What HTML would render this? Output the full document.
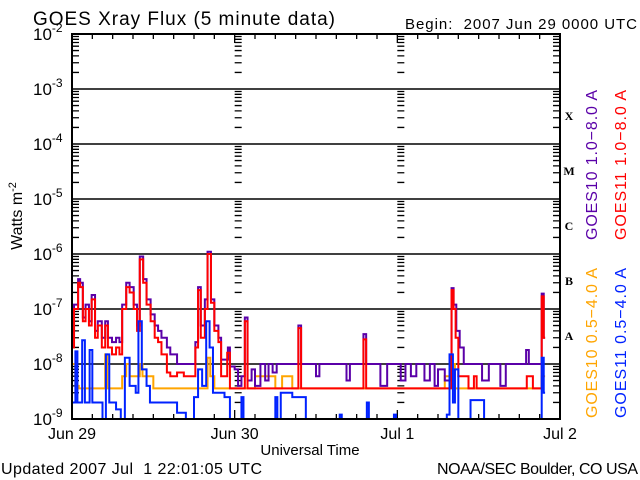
<!DOCTYPE html>
<html><head><meta charset="utf-8"><style>
body{margin:0;background:#fff;}
svg{display:block;font-family:"Liberation Sans",sans-serif;}
</style></head><body>
<svg id="chart" width="640" height="480" viewBox="0 0 640 480">
<rect x="0" y="0" width="640" height="480" fill="#fff"/>
<text x="33" y="25" font-size="19" textLength="302">GOES Xray Flux (5 minute data)</text>
<text x="405" y="29" font-size="15" textLength="232" xml:space="preserve">Begin:  2007 Jun 29 0000 UTC</text>
<text x="1" y="474" font-size="16" textLength="261" xml:space="preserve">Updated 2007 Jul  1 22:01:05 UTC</text>
<text x="437" y="474" font-size="16" textLength="201">NOAA/SEC Boulder, CO USA</text>
<text x="310" y="455" font-size="15" text-anchor="middle">Universal Time</text>
<text transform="translate(22,216) rotate(-90)" font-size="16" text-anchor="middle">Watts m<tspan dy="-6" font-size="11">-2</tspan></text>
<g id="legend" font-size="16">
<text transform="translate(597,240) rotate(-90)" fill="#5a00a8" textLength="150">GOES10 1.0−8.0 A</text>
<text transform="translate(626,240) rotate(-90)" fill="#ff0000" textLength="150">GOES11 1.0−8.0 A</text>
<text transform="translate(597,418) rotate(-90)" fill="#ffa500" textLength="150">GOES10 0.5−4.0 A</text>
<text transform="translate(626,418) rotate(-90)" fill="#0022ff" textLength="150">GOES11 0.5−4.0 A</text>
</g>
<g id="axes"></g>
<g id="series"></g>
<rect x="72" y="34" width="488" height="385" fill="none" stroke="#000" stroke-width="2"/>
</svg>
<script>
const dayLabels=["Jun 29","Jun 30","Jul 1","Jul 2"];
const decadeExps=[-2,-3,-4,-5,-6,-7,-8,-9];
const classLetters=["X","M","C","B","A"];
const tOrange=[0,0.5,1.0,4.9,5.2,7.4,8.0,8.5,10.0,10.4,12.0,20.0,20.4,21.0,27,30,31,32.5,55.0,56.0,56.5,69.3,69.8];
const vOrange=[1e-8,4e-9,3.6e-9,1.5e-8,3.6e-9,6e-9,1e-8,6e-9,1e-8,6e-9,3.6e-9,1.3e-8,6e-9,3.6e-9,6e-9,3.6e-9,6e-9,3.6e-9,6e-9,1e-8,3.6e-9,6e-9,6e-9];
const tPurple=[0,0.3,0.9,1.2,1.6,2.0,2.5,2.9,3.4,3.8,4.4,4.9,5.3,5.9,6.5,7.0,7.4,8.0,8.5,9.1,9.6,10.0,10.5,11.0,11.6,12.2,12.7,13.2,14.0,14.5,15.5,16.5,17.5,18.2,18.6,19.0,19.6,20.0,20.5,21.0,21.6,22.0,23.0,23.3,24.0,24.5,25.0,25.5,25.9,26.5,27.0,27.8,28.5,29.0,29.6,30.2,31,32,33.4,33.8,35,36,36.5,38,39.5,40.5,41,43.0,43.4,45,45.5,46.5,48,48.5,49.2,50,50.8,52,52.8,53.5,54,55,56.0,56.3,56.7,57.2,57.8,59,60.5,61.5,62.5,63.2,64,66,67.0,67.4,69.3,69.6,69.8];
const vPurple=[3e-8,1.2e-7,3.5e-7,3e-7,7e-8,1.2e-7,6e-8,1.8e-7,4e-8,6e-8,3e-8,6e-8,3e-8,2.5e-8,3e-8,2.5e-8,1.2e-7,3e-7,2.5e-7,1.2e-7,5e-8,9e-7,3.5e-7,1.5e-7,8e-8,5e-8,4e-8,3e-8,2e-8,1.5e-8,1e-8,1e-8,1e-8,2.5e-8,2.5e-7,5e-8,1.5e-7,1.1e-6,1.5e-7,5e-8,3e-8,1.2e-8,2e-8,9e-9,8e-9,4e-9,6e-9,7e-8,5e-9,8e-9,4e-9,1e-8,5e-9,1e-8,7e-9,1e-8,1e-8,1e-8,5e-8,1e-8,1e-8,6e-9,1e-8,1e-8,1e-8,5e-9,1e-8,3.5e-8,1e-8,1e-8,4e-9,1e-8,1e-8,5e-9,1e-8,6e-9,1e-8,5e-9,1e-8,4e-9,8e-9,5e-9,2.4e-7,1.2e-7,4e-8,2e-8,1e-8,1e-8,5e-9,1e-8,1e-8,4e-9,1e-8,1e-8,1.8e-8,1e-8,1.9e-7,3e-8,3e-8];
const tRed=[0,0.3,0.9,1.2,1.6,2.0,2.5,2.9,3.4,3.8,4.4,4.9,5.3,5.9,6.5,7.0,7.4,8.0,8.5,9.1,9.6,10.0,10.5,11.0,11.6,12.2,12.7,13.2,14.0,14.5,15.5,16.5,17.5,18.2,18.6,19.0,19.6,20.0,20.5,21.0,21.6,22.0,22.9,23.3,25.5,25.9,33.4,33.8,43.0,43.4,56.0,56.3,56.6,57.0,58.5,59.3,59.7,67.1,68.0,69.3,69.6,69.8];
const vRed=[2e-8,1e-7,3e-7,2.5e-7,6e-8,1e-7,5e-8,1.5e-7,3e-8,5e-8,2e-8,5e-8,2e-8,1.5e-8,2e-8,1.5e-8,1e-7,2.5e-7,2e-7,1e-7,4e-8,8e-7,3e-7,1.2e-7,6e-8,3e-8,2.5e-8,1.5e-8,7e-9,6e-9,7e-9,6e-9,6e-9,2e-8,2.2e-7,3e-8,1e-7,1e-6,1.3e-7,4e-8,2.5e-8,6e-9,1.6e-8,3.6e-9,6e-8,3.6e-9,4.5e-8,3.6e-9,2.8e-8,3.6e-9,2.2e-7,1e-7,3e-8,6e-9,3.6e-9,6e-9,3.6e-9,6e-9,3.6e-9,1.7e-7,3e-8,3e-8];
const tBlue=[0,0.5,0.8,1.5,1.9,2.6,3.0,4.5,5.0,5.5,6.5,7.2,7.8,8.5,9.4,9.8,10.3,11.0,11.5,15,15.5,16.8,17.5,18.0,18.6,19.2,19.8,20.3,20.8,22.5,23.3,23.8,25.0,25.3,30.0,30.3,30.8,32.5,34.5,39.5,39.8,43.5,43.8,47.5,47.8,55.3,55.7,56.2,56.5,57,58.8,60.5,60.8,69.3,69.6,69.8];
const vBlue=[2e-9,1.7e-8,2e-9,2.7e-8,2e-9,1.8e-8,2e-9,8e-10,1.5e-8,2e-9,1.5e-9,8e-10,1.3e-8,4e-9,3e-9,6e-8,8e-9,4e-9,2e-9,2e-9,1.3e-9,8e-10,1e-9,2.5e-9,8e-9,4e-9,6e-8,2e-8,3e-9,2.5e-9,1e-9,5e-10,2.5e-9,5e-10,2.5e-9,5e-10,3e-9,2.5e-9,5e-10,1.2e-9,5e-10,2e-9,5e-10,1.2e-9,5e-10,1.2e-9,1.5e-8,2e-9,8e-9,5e-10,2.2e-9,2.2e-9,5e-10,1.3e-8,3e-9,3e-9];

const NS="http://www.w3.org/2000/svg";
const X0=72,X1=560,Y0=34,Y1=419;
function xScale(h){return X0+(X1-X0)*h/72;}
function yScale(v){return Y0+(-2-Math.log10(v))*(Y1-Y0)/7;}
function mk(tag,attrs,parent){const e=document.createElementNS(NS,tag);for(const k in attrs)e.setAttribute(k,attrs[k]);parent.appendChild(e);return e;}
const axes=document.getElementById('axes');
let d="";
decadeExps.forEach((p,i)=>{
  const y=yScale(Math.pow(10,p));
  if(p<-2&&p>-9){const ln=mk('line',{x1:X0,x2:X1,y1:y,y2:y,stroke:'#000','stroke-width':1.6},axes);
  
  }
  const t=mk('text',{x:33,y:y+6,'font-size':17},axes);
  
  
  t.innerHTML='10<tspan dy="-8" font-size="12">'+p+'</tspan>';
  if(p>-9){for(let m=2;m<=9;m++){const ym=yScale(m*Math.pow(10,p-1));
    [X0,xScale(24),xScale(48)].forEach(xx=>{d+=`M${xx} ${ym}h7`;});
    d+=`M${X1} ${ym}h-7`;}}
});
for(let h=0;h<=72;h+=3){const x=xScale(h);const L=(h%24===0)?9:5;d+=`M${x} ${Y1}v-${L}M${x} ${Y0}v${L}`;}
const tk=mk('path',{d:d,stroke:'#000','stroke-width':1.3,fill:'none'},axes);


dayLabels.forEach((s,i)=>{const t=mk('text',{x:xScale(i*24),y:439,'font-size':16,'text-anchor':'middle'},axes);t.textContent=s;
  
  });
classLetters.forEach((c,i)=>{const t=mk('text',{x:569,y:yScale(Math.pow(10,-3-i))+31,'font-size':12,'font-weight':'bold','font-family':'Liberation Serif,serif','text-anchor':'middle'},axes);t.textContent=c;
  
  });
const ser=document.getElementById('series');
const cp=mk('clipPath',{id:'clip'},ser);
mk('rect',{x:X0,y:Y0,width:X1-X0,height:Y1-Y0},cp);
function step(ts,vs,color,name){let p="";for(let i=0;i<ts.length;i++){const x=xScale(ts[i]),y=yScale(vs[i]);p+=(i===0?`M${x} ${y}`:`V${y}`);if(i<ts.length-1)p+=`H${xScale(ts[i+1])}`;}
  const e=mk('path',{d:p,stroke:color,'stroke-width':2,fill:'none','clip-path':'url(#clip)'},ser);
  
  }
step(tOrange,vOrange,'#ffa500','series-goes10-short');
step(tPurple,vPurple,'#5a00a8','series-goes10-long');
step(tRed,vRed,'#ff0000','series-goes11-long');
step(tBlue,vBlue,'#0022ff','series-goes11-short');
</script>
</body></html>
